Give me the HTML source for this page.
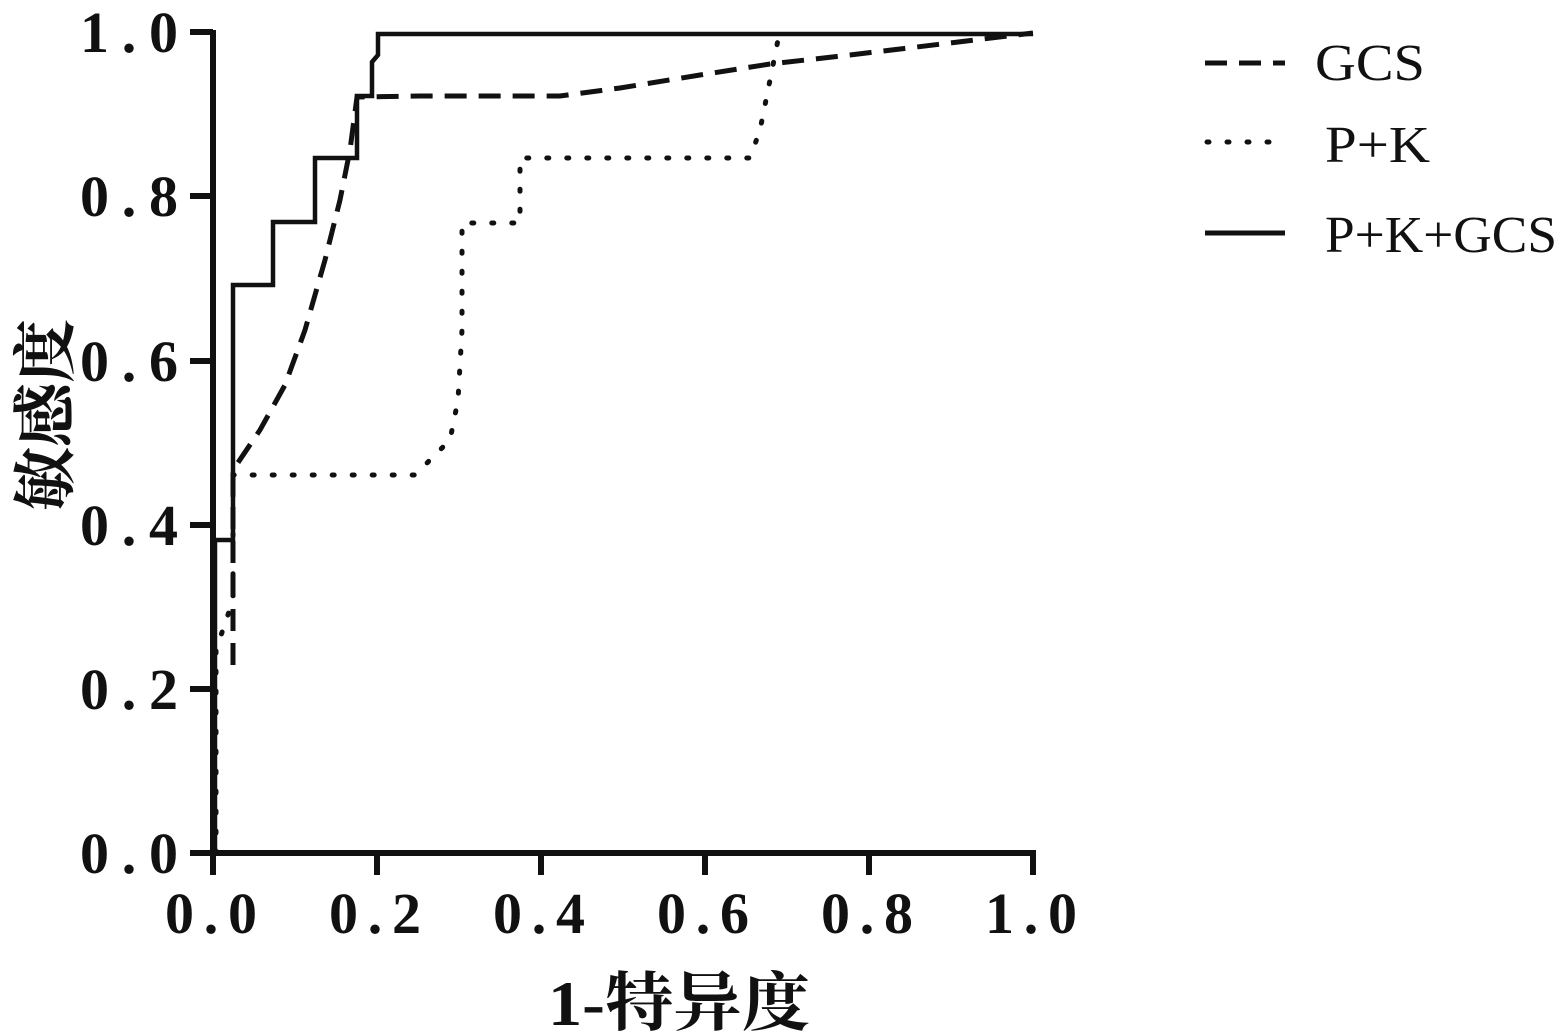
<!DOCTYPE html>
<html><head><meta charset="utf-8"><style>
html,body{margin:0;padding:0;background:#fff;}
svg{display:block;}
text{font-family:"Liberation Serif","Noto Serif CJK SC",serif;font-weight:bold;fill:#111;}
</style></head><body>
<svg width="1559" height="1035" viewBox="0 0 1559 1035">
<g stroke="#111" fill="none" stroke-linecap="butt">
<line x1="213" y1="30" x2="213" y2="856" stroke-width="6"/>
<line x1="210" y1="853" x2="1036" y2="853" stroke-width="6"/>
<g stroke-width="6">
<line x1="190" y1="853" x2="213" y2="853"/><line x1="190" y1="689" x2="213" y2="689"/>
<line x1="190" y1="525" x2="213" y2="525"/><line x1="190" y1="361" x2="213" y2="361"/>
<line x1="190" y1="196" x2="213" y2="196"/><line x1="190" y1="32" x2="213" y2="32"/>
<line x1="213" y1="853" x2="213" y2="875"/><line x1="377" y1="853" x2="377" y2="875"/>
<line x1="541" y1="853" x2="541" y2="875"/><line x1="705" y1="853" x2="705" y2="875"/>
<line x1="869" y1="853" x2="869" y2="875"/><line x1="1033" y1="853" x2="1033" y2="875"/>
</g>
<polyline stroke-width="4.5" points="215,853 215,540 233,540 233,285 273,285 273,222 315,222 315,158 357,158 357,96 372,96 372,62 378,55 378,34 1033,34"/>
<polyline stroke-width="5" stroke-dasharray="22,12" points="233,665 233,470 260,430 285,385 305,330 325,260 340,200 350,150 357,97 420,96 500,96 560,96 620,88 700,75 770,64 850,55 950,43 1033,33"/>
<polyline stroke-width="5" stroke-dasharray="2,18" stroke-linecap="round" points="216,853 216,650 233,600 233,475 415,475 430,460 450,440 458,400 462,330 462,223 520,223 520,158 750,158 760,130 770,80 778,40 790,34"/>
<line x1="1205" y1="63" x2="1285" y2="63" stroke-width="5" stroke-dasharray="22,12"/>
<line x1="1207" y1="142" x2="1285" y2="142" stroke-width="5" stroke-dasharray="2,18" stroke-linecap="round"/>
<line x1="1205" y1="233" x2="1285" y2="233" stroke-width="5"/>
</g>
<g font-size="58">
<text x="80" y="873" textLength="98" lengthAdjust="spacing">0.0</text>
<text x="80" y="709" textLength="98" lengthAdjust="spacing">0.2</text>
<text x="80" y="545" textLength="98" lengthAdjust="spacing">0.4</text>
<text x="80" y="381" textLength="98" lengthAdjust="spacing">0.6</text>
<text x="80" y="216" textLength="98" lengthAdjust="spacing">0.8</text>
<text x="80" y="52" textLength="98" lengthAdjust="spacing">1.0</text>
</g>
<g font-size="58">
<text x="165" y="933" textLength="92" lengthAdjust="spacing">0.0</text>
<text x="329" y="933" textLength="92" lengthAdjust="spacing">0.2</text>
<text x="493" y="933" textLength="92" lengthAdjust="spacing">0.4</text>
<text x="657" y="933" textLength="92" lengthAdjust="spacing">0.6</text>
<text x="821" y="933" textLength="92" lengthAdjust="spacing">0.8</text>
<text x="985" y="933" textLength="92" lengthAdjust="spacing">1.0</text>
</g>
<text x="548" y="1025" font-size="64" textLength="262" lengthAdjust="spacingAndGlyphs">1-特异度</text>
<text transform="translate(68,415) rotate(-90)" font-size="64" text-anchor="middle">敏感度</text>
<g font-size="52">
<text x="1315" y="80" textLength="110" lengthAdjust="spacingAndGlyphs" style="font-weight:normal">GCS</text>
<text x="1325" y="162" textLength="105" lengthAdjust="spacingAndGlyphs" style="font-weight:normal">P+K</text>
<text x="1325" y="252" textLength="232" lengthAdjust="spacingAndGlyphs" style="font-weight:normal">P+K+GCS</text>
</g>
</svg>
</body></html>
